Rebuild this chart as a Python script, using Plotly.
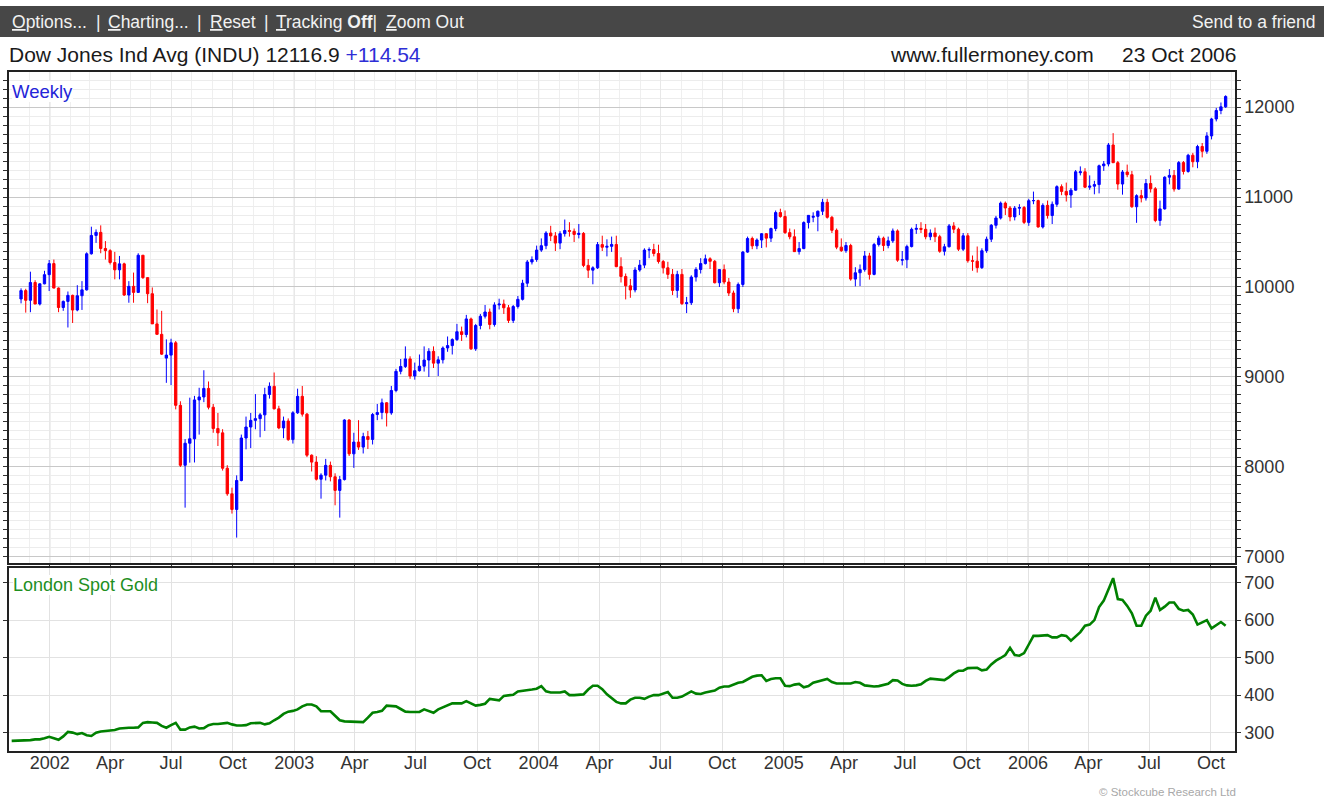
import pandas as pd
import plotly.graph_objects as go

# ---------------- data (weekly, week starting Monday) ----------------
first_week = "2001-11-19"

dow_open = [
    9867, 9960, 9852, 10050, 9811, 10035, 10137, 10260, 9988, 9772,
    9840, 9907, 9744, 9903, 9968, 10369, 10573, 10607, 10428, 10404,
    10272, 10191, 10257, 9911, 10007, 9940, 10353, 10104, 9925, 9590,
    9474, 9210, 9243, 9380, 8685, 8019, 8264, 8313, 8745, 8778,
    8873, 8664, 8427, 8379, 7986, 7702, 7528, 7850, 8322, 8444,
    8518, 8537, 8579, 8805, 8896, 8646, 8434, 8511, 8304, 8602,
    8785, 8587, 8131, 8054, 7864, 7909, 8018, 7891, 7740, 7860,
    8522, 8146, 8277, 8221, 8338, 8306, 8583, 8605, 8713, 8601,
    8850, 9063, 9117, 9201, 9011, 9070, 9120, 9188, 9285, 9154,
    9191, 9322, 9349, 9416, 9503, 9472, 9645, 9313, 9572, 9675,
    9722, 9583, 9801, 9810, 9769, 9629, 9783, 9863, 10042, 10278,
    10305, 10410, 10459, 10600, 10568, 10488, 10593, 10628, 10619, 10584,
    10596, 10240, 10187, 10213, 10471, 10442, 10452, 10473, 10226, 10117,
    10013, 9967, 10189, 10243, 10410, 10416, 10372, 10283, 10213, 10140,
    9962, 10140, 9815, 9825, 10110, 10195, 10260, 10313, 10285, 10047,
    10193, 10055, 9933, 9758, 10028, 10388, 10539, 10457, 10522, 10592,
    10543, 10650, 10827, 10783, 10604, 10558, 10393, 10427, 10716, 10775,
    10785, 10842, 10941, 10774, 10630, 10443, 10404, 10461, 10088, 10158,
    10193, 10345, 10140, 10472, 10543, 10461, 10513, 10623, 10298, 10303,
    10449, 10641, 10651, 10641, 10558, 10600, 10559, 10397, 10447, 10679,
    10642, 10420, 10569, 10292, 10287, 10215, 10403, 10531, 10686, 10766,
    10932, 10878, 10779, 10876, 10883, 10718, 10959, 10960, 10667, 10907,
    10794, 10919, 11115, 11062, 11022, 11076, 11270, 11280, 11109, 11120,
    11138, 11347, 11367, 11578, 11381, 11144, 11278, 11248, 10892, 11015,
    10989, 11150, 11091, 10739, 10868, 11220, 11240, 11088, 11382, 11284,
    11464, 11392, 11561, 11508, 11679, 11867, 11961, 12002,
]

dow_high = [
    9985, 9980, 10170, 10075, 10040, 10180, 10300, 10305, 9995, 9850,
    9950, 9915, 10020, 10065, 10385, 10670, 10640, 10685, 10510, 10420,
    10390, 10345, 10270, 10065, 10160, 10375, 10355, 10110, 9995, 9750,
    9735, 9418, 9425, 9400, 8730, 8310, 8770, 8790, 8880, 9075,
    8950, 8700, 8600, 8420, 8020, 7770, 7907, 8360, 8560, 8600,
    8810, 8600, 8880, 8940, 9050, 8680, 8560, 8540, 8620, 8870,
    8900, 8600, 8140, 8120, 7930, 8090, 8060, 7930, 7900, 8530,
    8530, 8380, 8520, 8380, 8400, 8600, 8700, 8760, 8720, 8900,
    9090, 9200, 9340, 9230, 9160, 9250, 9340, 9320, 9340, 9230,
    9340, 9450, 9430, 9590, 9560, 9690, 9660, 9590, 9700, 9800,
    9760, 9830, 9870, 9860, 9800, 9800, 9900, 10080, 10300, 10340,
    10460, 10540, 10620, 10680, 10610, 10620, 10750, 10720, 10650, 10700,
    10610, 10310, 10230, 10500, 10570, 10530, 10560, 10570, 10330, 10150,
    10090, 10220, 10300, 10430, 10440, 10480, 10470, 10300, 10280, 10200,
    10180, 10200, 9890, 10130, 10220, 10320, 10360, 10330, 10300, 10200,
    10250, 10100, 9960, 10050, 10400, 10560, 10560, 10540, 10600, 10600,
    10660, 10850, 10870, 10850, 10650, 10640, 10500, 10730, 10800, 10830,
    10850, 10980, 10980, 10790, 10650, 10540, 10500, 10480, 10220, 10250,
    10400, 10380, 10490, 10570, 10560, 10560, 10650, 10640, 10400, 10470,
    10660, 10700, 10720, 10700, 10640, 10660, 10580, 10480, 10700, 10720,
    10660, 10600, 10600, 10350, 10450, 10430, 10560, 10700, 10790, 10950,
    10950, 10900, 10900, 10920, 10900, 10980, 11060, 10970, 10930, 10960,
    10950, 11130, 11140, 11160, 11100, 11300, 11340, 11320, 11240, 11180,
    11360, 11400, 11600, 11710, 11400, 11300, 11360, 11290, 11030, 11080,
    11200, 11240, 11110, 10960, 11230, 11310, 11300, 11400, 11400, 11480,
    11490, 11580, 11600, 11720, 11880, 11990, 12050, 12130,
]

dow_low = [
    9818, 9715, 9720, 9810, 9795, 10030, 9955, 9985, 9720, 9735,
    9550, 9600, 9730, 9745, 9960, 10360, 10490, 10375, 10305, 10250,
    10085, 10085, 9900, 9825, 9825, 9935, 10090, 9820, 9590, 9470,
    9245, 8935, 8910, 8640, 8000, 7548, 8048, 8050, 8360, 8720,
    8640, 8380, 8233, 7960, 7680, 7482, 7215, 7840, 8196, 8210,
    8419, 8330, 8400, 8760, 8640, 8420, 8320, 8290, 8260, 8590,
    8560, 8110, 7950, 7850, 7648, 7850, 7840, 7574, 7437, 7850,
    8122, 7990, 8190, 8150, 8200, 8250, 8520, 8530, 8450, 8580,
    8830, 9030, 9100, 8980, 8970, 9060, 9060, 9000, 9100, 9011,
    9150, 9280, 9250, 9400, 9400, 9440, 9300, 9290, 9530, 9650,
    9530, 9560, 9750, 9700, 9600, 9600, 9760, 9850, 10000, 10250,
    10280, 10390, 10420, 10510, 10400, 10420, 10560, 10560, 10500, 10540,
    10220, 10100, 10030, 10200, 10400, 10340, 10390, 10220, 10050, 9862,
    9880, 9940, 10170, 10210, 10320, 10340, 10260, 10150, 10090, 9910,
    9880, 9800, 9710, 9800, 10060, 10150, 10250, 10200, 10040, 10000,
    10030, 9900, 9720, 9710, 10000, 10380, 10420, 10420, 10433, 10440,
    10500, 10620, 10770, 10590, 10530, 10390, 10360, 10420, 10650, 10720,
    10619, 10800, 10760, 10600, 10420, 10390, 10380, 10070, 10007, 10010,
    10170, 10082, 10130, 10450, 10400, 10430, 10490, 10280, 10240, 10210,
    10440, 10590, 10600, 10530, 10520, 10500, 10380, 10350, 10440, 10600,
    10400, 10400, 10270, 10180, 10160, 10200, 10380, 10500, 10650, 10750,
    10800, 10730, 10740, 10800, 10700, 10680, 10920, 10660, 10650, 10760,
    10700, 10890, 11020, 10950, 10880, 11070, 11240, 11100, 11080, 11030,
    11040, 11290, 11340, 11380, 11081, 11026, 11220, 10880, 10713, 10940,
    10960, 11050, 10720, 10680, 10860, 11140, 11060, 11080, 11250, 11270,
    11330, 11320, 11440, 11480, 11640, 11840, 11920, 11990,
]

dow_close = [
    9960, 9852, 10050, 9811, 10035, 10137, 10260, 9988, 9772, 9840,
    9907, 9744, 9903, 9968, 10369, 10573, 10607, 10428, 10404, 10272,
    10191, 10257, 9911, 10007, 9940, 10353, 10104, 9925, 9590, 9474,
    9254, 9243, 9380, 8685, 8019, 8264, 8313, 8745, 8778, 8873,
    8664, 8427, 8379, 7986, 7702, 7528, 7850, 8322, 8444, 8518,
    8537, 8579, 8805, 8896, 8646, 8434, 8511, 8304, 8602, 8785,
    8587, 8131, 8054, 7864, 7909, 8018, 7891, 7740, 7860, 8522,
    8146, 8277, 8221, 8338, 8306, 8583, 8605, 8713, 8601, 8850,
    9063, 9117, 9201, 9011, 9070, 9120, 9188, 9285, 9154, 9191,
    9322, 9349, 9416, 9503, 9472, 9645, 9313, 9572, 9675, 9722,
    9583, 9801, 9810, 9769, 9629, 9783, 9863, 10042, 10278, 10305,
    10410, 10459, 10600, 10568, 10488, 10593, 10628, 10619, 10584, 10596,
    10240, 10187, 10213, 10471, 10442, 10452, 10473, 10226, 10117, 10013,
    9967, 10189, 10243, 10410, 10416, 10372, 10283, 10213, 10140, 9962,
    10140, 9815, 9825, 10110, 10195, 10260, 10313, 10285, 10047, 10193,
    10055, 9933, 9758, 10028, 10388, 10539, 10457, 10522, 10592, 10543,
    10650, 10827, 10783, 10604, 10558, 10393, 10427, 10716, 10796, 10785,
    10842, 10941, 10774, 10630, 10443, 10404, 10461, 10088, 10158, 10193,
    10345, 10140, 10472, 10543, 10461, 10513, 10623, 10298, 10303, 10449,
    10641, 10651, 10641, 10558, 10600, 10559, 10397, 10447, 10679, 10642,
    10420, 10569, 10292, 10287, 10215, 10403, 10531, 10686, 10766, 10932,
    10878, 10779, 10876, 10883, 10718, 10959, 10960, 10667, 10907, 10794,
    10919, 11115, 11062, 11022, 11076, 11280, 11280, 11109, 11120, 11138,
    11347, 11367, 11578, 11381, 11144, 11278, 11248, 10892, 11015, 10989,
    11150, 11091, 10739, 10868, 11220, 11240, 11088, 11382, 11284, 11464,
    11392, 11561, 11508, 11679, 11867, 11961, 12002, 12117,
]

gold_first_week = "2001-11-05"
gold = [
    278, 278, 278, 278, 280, 282, 282, 285, 289, 285,
    281, 290, 302, 300, 296, 299, 293, 291, 300, 303,
    304, 305, 307, 311, 313, 313, 313, 314, 326, 328,
    327, 326, 318, 313, 320, 326, 308, 308, 314, 316,
    311, 312, 320, 323, 323, 324, 326, 322, 319, 319,
    320, 325, 326, 326, 322, 325, 333, 340, 350, 356,
    358, 362, 370, 375, 375, 370, 357, 357, 357, 345,
    333, 330, 330, 328, 328, 328, 340, 353, 355, 358,
    372, 372, 370, 363, 356, 355, 355, 355, 362, 358,
    353, 362, 367, 373, 378, 378, 378, 384, 378, 372,
    374, 377, 390, 388, 386, 398, 400, 401, 410, 411,
    412, 415, 417, 424, 410, 407, 407, 407, 410, 400,
    400, 400, 402, 415, 425, 425, 416, 402, 393, 382,
    378, 378, 388, 393, 393, 390, 396, 400, 400, 405,
    408, 393, 393, 396, 403, 410, 404, 403, 407, 409,
    412, 420, 423, 423, 428, 433, 435, 441, 449, 452,
    453, 438, 443, 445, 445, 425, 424, 428, 430, 421,
    424, 433, 436, 440, 443, 435, 431, 431, 431, 431,
    435, 433, 426, 424, 423, 424, 427, 430, 440, 439,
    430, 426, 425, 426, 429, 438, 444, 442, 440, 440,
    448, 458, 465, 465, 472, 473, 473, 466, 468, 482,
    492, 499, 507, 526, 507, 505, 512, 535, 558, 558,
    560, 560, 554, 554, 560, 558, 545, 556, 568, 585,
    588, 600, 635, 652, 680, 712, 656, 654, 638, 618,
    585, 585, 612, 625, 660, 627, 636, 647, 647, 630,
    625, 627, 615, 588, 594, 600, 578, 587, 595, 585,
]

quarter_ticks = ["2002-01-01", "2002-04-01", "2002-07-01", "2002-10-01",
                 "2003-01-01", "2003-04-01", "2003-07-01", "2003-10-01",
                 "2004-01-01", "2004-04-01", "2004-07-01", "2004-10-01",
                 "2005-01-01", "2005-04-01", "2005-07-01", "2005-10-01",
                 "2006-01-01", "2006-04-01", "2006-07-01", "2006-10-01"]
quarter_labels = ["2002", "Apr", "Jul", "Oct", "2003", "Apr", "Jul", "Oct",
                  "2004", "Apr", "Jul", "Oct", "2005", "Apr", "Jul", "Oct",
                  "2006", "Apr", "Jul", "Oct"]
year_lines = ["2002-01-01", "2003-01-01", "2004-01-01", "2005-01-01", "2006-01-01"]
dow_ticks = [7000, 8000, 9000, 10000, 11000, 12000]
dow_tick_labels = ["7000", "8000", "9000", "10000", "11000", "12000"]
gold_ticks = [300, 400, 500, 600, 700]
gold_tick_labels = ["300", "400", "500", "600", "700"]

dow_dates = pd.date_range(first_week, periods=len(dow_close), freq="7D")
gold_dates = pd.date_range(gold_first_week, periods=len(gold), freq="7D")

# ---------------- layout helpers (pixel -> paper) ----------------
W, H = 1324, 800
L, R, T, B = 9, 1235, 72, 751
PW, PH = R - L, B - T


def px(x):
    return (x - L) / PW


def py(y):
    return (B - y) / PH


FONT = "Liberation Sans, Arial, sans-serif"

fig = go.Figure()
fig.add_trace(go.Candlestick(
    x=dow_dates, open=dow_open, high=dow_high, low=dow_low, close=dow_close,
    xaxis="x", yaxis="y", showlegend=False, whiskerwidth=0,
    increasing=dict(line=dict(color="#0000ff", width=1), fillcolor="#0000ff"),
    decreasing=dict(line=dict(color="#ff0000", width=1), fillcolor="#ff0000"),
    name="INDU",
))
fig.add_trace(go.Scatter(
    x=gold_dates, y=gold, mode="lines", xaxis="x2", yaxis="y2",
    line=dict(color="#008000", width=2.6), showlegend=False, name="Gold",
))

top_split = py(563)
bot_split = py(568)

axis_common = dict(showline=True, linecolor="#222222", linewidth=1.5, zeroline=False,
                   automargin=False,
                   tickfont=dict(family=FONT, size=18, color="#333333"))

fig.update_layout(
    width=W, height=H,
    margin=dict(l=L, r=W - R, t=T, b=H - B, pad=0, autoexpand=False),
    paper_bgcolor="white", plot_bgcolor="white",
    font=dict(family=FONT, color="#222222"),
    showlegend=False,
    xaxis=dict(
        domain=[0, 1], anchor="y", type="date",
        range=["2001-11-01", "2006-11-06"],
        rangeslider=dict(visible=False),
        tickmode="array", tickvals=quarter_ticks, ticktext=quarter_labels,
        showticklabels=False, ticks="outside", ticklen=3, tickcolor="#333333",
        showgrid=True, gridcolor="#e8e8e8", gridwidth=1,
        minor=dict(dtick="M1", tick0="2001-01-01", showgrid=True,
                   gridcolor="#efefef", ticks=""),
        mirror=True, **axis_common,
    ),
    yaxis=dict(
        domain=[top_split, 1], anchor="x", side="right",
        range=[6933, 12389], tickmode="array", tickvals=dow_ticks,
        ticktext=dow_tick_labels,
        ticks="outside", ticklen=4, tickcolor="#333333",
        showgrid=True, gridcolor="#c8c8c8", gridwidth=1,
        minor=dict(dtick=100, tick0=0, ticks="outside", ticklen=4,
                   tickcolor="#333333", showgrid=True, gridcolor="#ececec"),
        mirror="ticks", **axis_common,
    ),
    xaxis2=dict(
        domain=[0, 1], anchor="y2", type="date", matches="x",
        range=["2001-11-01", "2006-11-06"],
        tickmode="array", tickvals=quarter_ticks, ticktext=quarter_labels,
        ticks="", ticklabelstandoff=-5,
        showgrid=True, gridcolor="#e2e2e2", gridwidth=1,
        mirror=True, **axis_common,
    ),
    yaxis2=dict(
        domain=[0, bot_split], anchor="x2", side="right",
        range=[251, 739], tickmode="array", tickvals=gold_ticks,
        ticktext=gold_tick_labels,
        ticks="outside", ticklen=4, tickcolor="#333333",
        showgrid=True, gridcolor="#e2e2e2", gridwidth=1,
        mirror="ticks", **axis_common,
    ),
)

shapes = [dict(type="rect", xref="paper", yref="paper",
               x0=px(0), x1=px(1324), y0=py(37), y1=py(6),
               fillcolor="#474747", line=dict(width=0))]
for d in year_lines:
    shapes.append(dict(type="line", xref="x", yref="y domain", x0=d, x1=d, y0=0, y1=1,
                       line=dict(color="#cfcfcf", width=1), layer="below"))
fig.update_layout(shapes=shapes)

ann = []


def add_text(text, x, y, size, color, xanchor="left", bg=None):
    d = dict(text=text, xref="paper", yref="paper", x=px(x), y=py(y),
             xanchor=xanchor, yanchor="middle", showarrow=False,
             font=dict(family=FONT, size=size, color=color),
             borderpad=0, borderwidth=0)
    if bg:
        d["bgcolor"] = bg
    ann.append(d)


TB = "#f2f2f2"
add_text("<u>O</u>ptions...", 12, 22, 17.5, TB)
add_text("|", 98, 22, 17.5, TB, xanchor="center")
add_text("<u>C</u>harting...", 108, 22, 17.5, TB)
add_text("|", 199, 22, 17.5, TB, xanchor="center")
add_text("<u>R</u>eset", 210, 22, 17.5, TB)
add_text("|", 266, 22, 17.5, TB, xanchor="center")
add_text("<u>T</u>racking <b>Off</b>|", 276, 22, 17.5, TB)
add_text("<u>Z</u>oom Out", 386, 22, 17.5, TB)
add_text("Send to a friend", 1316, 22, 17.5, TB, xanchor="right")

add_text("Dow Jones Ind Avg (INDU) 12116.9 <span style='color:#2e2ed6'>+114.54</span>",
         9, 54, 21, "#1a1a1a")
add_text("www.fullermoney.com", 890, 54, 21, "#1a1a1a")
add_text("23 Oct 2006", 1236, 54, 21, "#1a1a1a", xanchor="right")

add_text("Weekly", 12, 91, 18.5, "#2424d8", bg="white")
add_text("London Spot Gold", 13, 585, 18, "#1f8f1f", bg="white")
add_text("\u00a9 Stockcube Research Ltd", 1236, 792, 11.5, "#a8a8a8", xanchor="right")

fig.update_layout(annotations=ann)

fig.write_html(
    "out.html",
    config={"displayModeBar": False},
    post_script="document.body.style.margin='0px';document.body.style.overflow='hidden';",
)
